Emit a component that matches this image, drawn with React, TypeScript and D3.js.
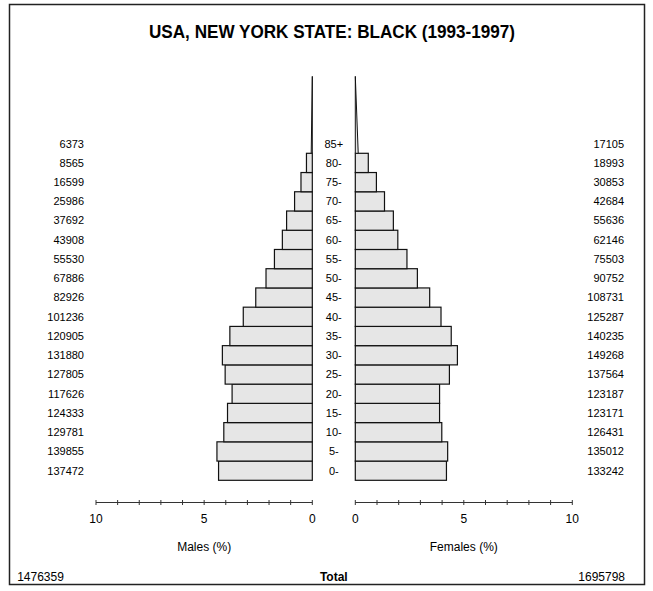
import React from "react";
import * as d3 from "d3";

const ages = ["0-", "5-", "10-", "15-", "20-", "25-", "30-", "35-", "40-", "45-", "50-", "55-", "60-", "65-", "70-", "75-", "80-", "85+"];
const males = [137472, 139855, 129781, 124333, 117626, 127805, 131880, 120905, 101236, 82926, 67886, 55530, 43908, 37692, 25986, 16599, 8565, 6373];
const females = [133242, 135012, 126431, 123171, 123187, 137564, 149268, 140235, 125287, 108731, 90752, 75503, 62146, 55636, 42684, 30853, 18993, 17105];
const totalMales = 1476359;
const totalFemales = 1695798;
const title = "USA, NEW YORK STATE: BLACK (1993-1997)";
const tickValues = [0, 1, 2, 3, 4, 5, 6, 7, 8, 9, 10];
const tickLabels = [0, 5, 10];

const W = 653;
const H = 591;
const FONT = "'Liberation Sans', Arial, Helvetica, sans-serif";

export default function App() {
  const grand = totalMales + totalFemales;
  const pct = (v: number) => (v / grand) * 100;

  const xM = d3.scaleLinear().domain([0, 10]).range([312.3, 96]);
  const xF = d3.scaleLinear().domain([0, 10]).range([355.3, 572.3]);
  const y = d3.scaleBand<string>().domain([...ages].reverse()).range([134.06, 480.3]).paddingInner(0);
  const bh = y.bandwidth();
  const midX = (xM(0) + xF(0)) / 2;
  const axisY = 502.5;
  const last = ages.length - 1;

  const fill = "#e6e6e6";
  const stroke = "#111";

  return (
    <svg width={W} height={H} style={{ position: "absolute", left: 0, top: 0 }} fontFamily={FONT}>
      <rect x={0} y={0} width={W} height={H} fill="#fff" />
      <rect x={9.5} y={4.5} width={635} height={580} fill="none" stroke="#222" strokeWidth={1.5} />
      <text x={332} y={38} textAnchor="middle" fontSize={19} fontWeight="bold" textLength={366} lengthAdjust="spacingAndGlyphs">{title}</text>

      {ages.map((a, i) => {
        const yt = y(a)!;
        const yc = yt + bh / 2;
        const wm = pct(males[i]);
        const wf = pct(females[i]);
        return (
          <g key={a}>
            {i === last ? (
              <>
                <polygon
                  points={`${xM(0)},${yt + bh - 4 * bh} ${xM(wm / 4)},${yt + bh} ${xM(0)},${yt + bh}`}
                  fill={fill}
                  stroke={stroke}
                  strokeWidth={1}
                />
                <polygon
                  points={`${xF(0)},${yt + bh - 4 * bh} ${xF(wf / 4)},${yt + bh} ${xF(0)},${yt + bh}`}
                  fill={fill}
                  stroke={stroke}
                  strokeWidth={1}
                />
              </>
            ) : (
              <>
                <rect x={xM(wm)} y={yt} width={xM(0) - xM(wm)} height={bh} fill={fill} stroke={stroke} strokeWidth={1.2} />
                <rect x={xF(0)} y={yt} width={xF(wf) - xF(0)} height={bh} fill={fill} stroke={stroke} strokeWidth={1.2} />
              </>
            )}
            <text x={84} y={yc} dy="0.35em" textAnchor="end" fontSize={11}>{males[i]}</text>
            <text x={624} y={yc} dy="0.35em" textAnchor="end" fontSize={11}>{females[i]}</text>
            <text x={midX} y={yc} dy="0.35em" textAnchor="middle" fontSize={11}>{a}</text>
          </g>
        );
      })}

      {[xM, xF].map((sc, k) => (
        <g key={k}>
          <line x1={sc(0)} x2={sc(10)} y1={axisY} y2={axisY} stroke="#333" strokeWidth={1} />
          {tickValues.map((t) => (
            <line key={t} x1={sc(t)} x2={sc(t)} y1={axisY - 2.5} y2={axisY + 2.5} stroke="#333" strokeWidth={1} />
          ))}
          {tickLabels.map((t) => (
            <text key={t} x={sc(t)} y={523} textAnchor="middle" fontSize={12}>{t}</text>
          ))}
        </g>
      ))}

      <text x={(xM(0) + xM(10)) / 2} y={551} textAnchor="middle" fontSize={12}>Males (%)</text>
      <text x={(xF(0) + xF(10)) / 2} y={551} textAnchor="middle" fontSize={12}>Females (%)</text>

      <text x={40.5} y={581} textAnchor="middle" fontSize={12}>{totalMales}</text>
      <text x={midX} y={581} textAnchor="middle" fontSize={12} fontWeight="bold">Total</text>
      <text x={625} y={581} textAnchor="end" fontSize={12}>{totalFemales}</text>
    </svg>
  );
}
